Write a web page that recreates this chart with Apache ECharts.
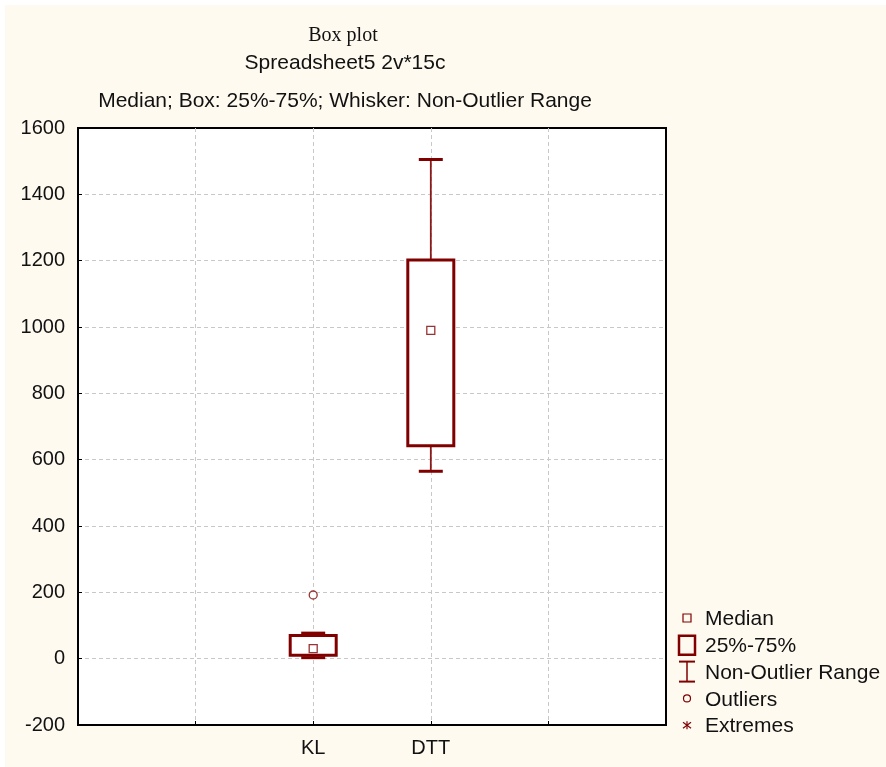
<!DOCTYPE html>
<html>
<head>
<meta charset="utf-8">
<script src="https://cdn.jsdelivr.net/npm/echarts@6/dist/echarts.min.js"></script>
<style>
html,body{margin:0;padding:0;background:#ffffff;}
#c{width:886px;height:767px;}
</style>
</head>
<body>
<div id="c"></div>
<script>
// ---- data ----
const categories = ['', '', 'KL', 'DTT', '', ''];
const boxNames = ['KL', 'DTT'];
// [low whisker, Q1, median, Q3, high whisker]
const boxStats = [
  [3, 10, 30, 70, 77],
  [565, 642, 990, 1202, 1505]
];
const outliers = [['KL', 192]];
const yTicks = { min: -200, max: 1600, interval: 200 };
const titleText = 'Box plot';
const subText1 = 'Spreadsheet5 2v*15c';
const subText2 = 'Median; Box: 25%-75%; Whisker: Non-Outlier Range';
const legendLabels = ['Median', '25%-75%', 'Non-Outlier Range', 'Outliers', 'Extremes'];

const RED = '#800000';
const FONT = '"Liberation Sans", Arial, sans-serif';

const boxData = boxNames.map((n, i) => [categories.indexOf(n)].concat(boxStats[i]));
const medianData = boxNames.map((n, i) => [categories.indexOf(n), boxStats[i][2]]);
const outlierData = outliers.map(o => [categories.indexOf(o[0]), o[1]]);

const chart = echarts.init(document.getElementById('c'), null, { renderer: 'canvas' });

function renderBox(params, api) {
  const x = api.value(0);
  const pLow = api.coord([x, api.value(1)]);
  const pQ1 = api.coord([x, api.value(2)]);
  const pQ3 = api.coord([x, api.value(4)]);
  const pHigh = api.coord([x, api.value(5)]);
  const cx = pLow[0];
  const halfBox = 23;
  const halfCap = 12;
  const lineStyle = { stroke: '#8a1a1a', lineWidth: 1.8, fill: null };
  return {
    type: 'group',
    children: [
      { type: 'line', shape: { x1: cx, y1: pHigh[1], x2: cx, y2: pQ3[1] }, style: lineStyle },
      { type: 'line', shape: { x1: cx, y1: pQ1[1], x2: cx, y2: pLow[1] }, style: lineStyle },
      { type: 'line', shape: { x1: cx - halfCap, y1: pHigh[1], x2: cx + halfCap, y2: pHigh[1] }, style: { stroke: RED, lineWidth: 3 } },
      { type: 'line', shape: { x1: cx - halfCap, y1: pLow[1], x2: cx + halfCap, y2: pLow[1] }, style: { stroke: RED, lineWidth: 3 } },
      { type: 'rect', shape: { x: cx - halfBox, y: pQ3[1], width: halfBox * 2, height: pQ1[1] - pQ3[1] },
        style: { stroke: RED, lineWidth: 3, fill: '#ffffff' } }
    ]
  };
}

// legend graphics
const LX = 687, LY0 = 618, LDY = 26.8;
const legendGraphics = [];
legendLabels.forEach((t, i) => {
  legendGraphics.push({
    type: 'text', left: 705, top: LY0 + i * LDY - 9,
    style: { text: t, font: '21px ' + FONT, fill: '#111111' }
  });
});
legendGraphics.push(
  { type: 'rect', shape: { x: LX - 4, y: LY0 - 4, width: 8, height: 8 }, style: { stroke: RED, lineWidth: 1.2, fill: null } },
  { type: 'rect', shape: { x: LX - 8, y: LY0 + LDY - 9, width: 16, height: 19 }, style: { stroke: RED, lineWidth: 2.5, fill: null } },
  { type: 'line', shape: { x1: LX - 8, y1: LY0 + 2 * LDY - 10, x2: LX + 8, y2: LY0 + 2 * LDY - 10 }, style: { stroke: RED, lineWidth: 2 } },
  { type: 'line', shape: { x1: LX - 8, y1: LY0 + 2 * LDY + 10, x2: LX + 8, y2: LY0 + 2 * LDY + 10 }, style: { stroke: RED, lineWidth: 2 } },
  { type: 'line', shape: { x1: LX, y1: LY0 + 2 * LDY - 10, x2: LX, y2: LY0 + 2 * LDY + 10 }, style: { stroke: RED, lineWidth: 1.5 } },
  { type: 'circle', shape: { cx: LX, cy: LY0 + 3 * LDY, r: 3.5 }, style: { stroke: RED, lineWidth: 1.2, fill: null } },
  { type: 'line', shape: { x1: LX, y1: LY0 + 4 * LDY - 4, x2: LX, y2: LY0 + 4 * LDY + 4 }, style: { stroke: RED, lineWidth: 1.2 } },
  { type: 'line', shape: { x1: LX - 4, y1: LY0 + 4 * LDY - 3, x2: LX + 4, y2: LY0 + 4 * LDY + 3 }, style: { stroke: RED, lineWidth: 1.2 } },
  { type: 'line', shape: { x1: LX - 4, y1: LY0 + 4 * LDY + 3, x2: LX + 4, y2: LY0 + 4 * LDY - 3 }, style: { stroke: RED, lineWidth: 1.2 } }
);

chart.setOption({
  animation: false,
  backgroundColor: '#ffffff',
  graphic: [
    { type: 'rect', z: -10, left: 5, top: 5, shape: { width: 881, height: 762 }, style: { fill: '#FEFAF0' } },
    { type: 'text', x: 343, y: 36, style: { text: titleText, font: '20px "Liberation Serif", "Times New Roman", serif', fill: '#111', align: 'center', verticalAlign: 'middle' } },
    { type: 'text', x: 345, y: 63, style: { text: subText1, font: '21px ' + FONT, fill: '#111', align: 'center', verticalAlign: 'middle' } },
    { type: 'text', x: 345, y: 101, style: { text: subText2, font: '21px ' + FONT, fill: '#111', align: 'center', verticalAlign: 'middle' } }
  ].concat(legendGraphics),
  grid: {
    left: 78, right: 220, top: 128, bottom: 42,
    show: true, backgroundColor: '#ffffff', borderColor: '#000000', borderWidth: 2
  },
  xAxis: {
    type: 'category',
    data: categories,
    boundaryGap: false,
    axisLine: { show: true, onZero: false, lineStyle: { color: '#000', width: 2 } },
    axisTick: { show: true, inside: true, length: 4, interval: 0, lineStyle: { color: '#000' } },
    axisLabel: { show: true, interval: 0, margin: 13, color: '#111', fontSize: 20, fontFamily: FONT },
    splitLine: { show: true, interval: 0, showMinLine: false, showMaxLine: false, lineStyle: { color: '#c8c8c8', type: [4, 3], width: 1 } }
  },
  yAxis: {
    type: 'value',
    min: yTicks.min, max: yTicks.max, interval: yTicks.interval,
    axisLine: { show: true, onZero: false, lineStyle: { color: '#000', width: 2 } },
    axisTick: { show: true, inside: true, length: 4, lineStyle: { color: '#000' } },
    axisLabel: { margin: 13, color: '#111', fontSize: 20, fontFamily: FONT, formatter: v => String(v) },
    splitLine: { show: true, showMinLine: false, showMaxLine: false, lineStyle: { color: '#c8c8c8', type: [4, 3], width: 1 } }
  },
  series: [
    {
      type: 'custom',
      renderItem: renderBox,
      data: boxData,
      encode: { x: 0, y: [1, 2, 3, 4, 5] },
      z: 3
    },
    {
      type: 'scatter',
      data: medianData,
      symbol: 'rect',
      symbolSize: 8,
      itemStyle: { color: '#ffffff', borderColor: RED, borderWidth: 1.3 },
      z: 5
    },
    {
      type: 'scatter',
      data: outlierData,
      symbol: 'circle',
      symbolSize: 8,
      itemStyle: { color: '#ffffff', borderColor: RED, borderWidth: 1.3 },
      z: 5
    }
  ]
});
</script>
</body>
</html>
